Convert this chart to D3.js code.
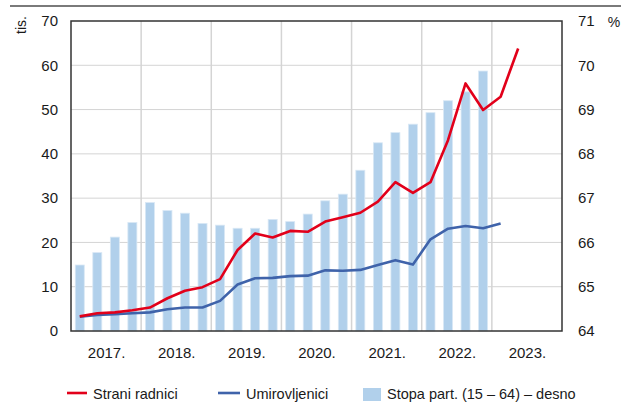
<!DOCTYPE html>
<html>
<head>
<meta charset="utf-8">
<script src="https://cdn.jsdelivr.net/npm/d3@7"></script>
<style>
  body { margin: 0; background: #fff; }
  svg text { font-family: "Liberation Sans", Arial, sans-serif; fill: #1a1a1a; }
</style>
</head>
<body>
<svg width="624" height="403"></svg>
<script>
// quarterly data, 2017 Q1 onwards
var years = ['2017.', '2018.', '2019.', '2020.', '2021.', '2022.', '2023.'];
var leftTicks = [0, 10, 20, 30, 40, 50, 60, 70];
var rightTicks = [64, 65, 66, 67, 68, 69, 70, 71];

var straniRadnici = [3.3, 4.0, 4.2, 4.7, 5.3, 7.4, 9.1, 9.9, 11.7, 18.3, 22.0, 21.1, 22.6,
  22.4, 24.7, 25.7, 26.7, 29.2, 33.6, 31.2, 33.6, 43.1, 55.9, 49.9, 52.9, 63.8];
var umirovljenici = [3.2, 3.6, 3.8, 4.0, 4.2, 4.9, 5.3, 5.3, 6.8, 10.5, 11.9, 12.0, 12.4,
  12.5, 13.7, 13.6, 13.8, 14.9, 16.0, 15.0, 20.7, 23.1, 23.7, 23.2, 24.3];
var stopaPart = [65.49, 65.77, 66.12, 66.45, 66.90, 66.72, 66.66, 66.43, 66.39, 66.32, 66.32, 66.52,
  66.47, 66.64, 66.94, 67.09, 67.63, 68.25, 68.48, 68.67, 68.93, 69.20, 69.40, 69.87];

var svg = d3.select('svg'),
    m = {left: 71, right: 562, top: 21, bottom: 331};

var x = d3.scaleLinear().domain([0, 28]).range([m.left, m.right]),
    yL = d3.scaleLinear().domain([0, 70]).range([m.bottom, m.top]),
    yR = d3.scaleLinear().domain([64, 71]).range([m.bottom, m.top]);

// top rule
svg.append('line')
  .attr('x1', 10).attr('x2', 621).attr('y1', 6).attr('y2', 6)
  .attr('stroke', '#7a7a7a').attr('stroke-width', 2);

// grid
svg.append('g').selectAll('line')
  .data(leftTicks.slice(1, -1))
  .enter().append('line')
  .attr('x1', m.left).attr('x2', m.right)
  .attr('y1', function(d) { return yL(d); })
  .attr('y2', function(d) { return yL(d); })
  .attr('stroke', '#d4d4d4').attr('stroke-width', 1);

svg.append('g').selectAll('line')
  .data(d3.range(1, years.length))
  .enter().append('line')
  .attr('x1', function(d) { return x(d * 4); })
  .attr('x2', function(d) { return x(d * 4); })
  .attr('y1', m.top).attr('y2', m.bottom)
  .attr('stroke', '#d4d4d4').attr('stroke-width', 1.5);

// bars (right axis)
var bw = 9;
svg.append('g').selectAll('rect')
  .data(stopaPart)
  .enter().append('rect')
  .attr('x', function(d, i) { return x(i + 0.5) - bw / 2; })
  .attr('y', function(d) { return yR(d); })
  .attr('width', bw)
  .attr('height', function(d) { return m.bottom - yR(d); })
  .attr('fill', '#b1d0eb')
  .attr('stroke', '#d9e8f5').attr('stroke-width', 0.8);

// lines
var line = d3.line()
  .x(function(d, i) { return x(i + 0.5); })
  .y(function(d) { return yL(d); });

svg.append('path').datum(umirovljenici)
  .attr('d', line).attr('fill', 'none')
  .attr('stroke', '#3f63aa').attr('stroke-width', 2.6).attr('stroke-linejoin', 'round');

svg.append('path').datum(straniRadnici)
  .attr('d', line).attr('fill', 'none')
  .attr('stroke', '#e2001a').attr('stroke-width', 2.6).attr('stroke-linejoin', 'round');

// frame
svg.append('rect')
  .attr('x', m.left).attr('y', m.top)
  .attr('width', m.right - m.left).attr('height', m.bottom - m.top)
  .attr('fill', 'none').attr('stroke', '#333').attr('stroke-width', 1.5);

// axes
var axL = svg.append('g').attr('transform', 'translate(' + m.left + ',0)')
  .call(d3.axisLeft(yL).tickValues(leftTicks).tickSize(0).tickPadding(13));
var axR = svg.append('g').attr('transform', 'translate(' + m.right + ',0)')
  .call(d3.axisRight(yR).tickValues(rightTicks).tickFormat(d3.format('d')).tickSize(0).tickPadding(16));
var axB = svg.append('g').attr('transform', 'translate(0,' + m.bottom + ')')
  .call(d3.axisBottom(x).tickValues(d3.range(years.length).map(function(i) { return i * 4 + 2; }))
    .tickFormat(function(d) { return years[(d - 2) / 4]; })
    .tickSize(0).tickPadding(16));

[axL, axR, axB].forEach(function(a) {
  a.select('.domain').remove();
  a.selectAll('text').style('font-size', '15px').style('font-family', '"Liberation Sans", Arial, sans-serif').attr('fill', '#1a1a1a');
});

svg.append('text')
  .attr('transform', 'translate(26,25) rotate(-90)')
  .attr('text-anchor', 'middle')
  .style('font-size', '14px')
  .text('tis.');

svg.append('text')
  .attr('x', 614).attr('y', 27)
  .attr('text-anchor', 'middle')
  .style('font-size', '14px')
  .text('%');

// legend
var lg = svg.append('g').style('font-size', '14.5px');
lg.append('line').attr('x1', 67).attr('x2', 87).attr('y1', 393).attr('y2', 393)
  .attr('stroke', '#e2001a').attr('stroke-width', 2.6);
lg.append('text').attr('x', 93).attr('y', 399).text('Strani radnici');
lg.append('line').attr('x1', 218).attr('x2', 240).attr('y1', 393).attr('y2', 393)
  .attr('stroke', '#3f63aa').attr('stroke-width', 2.6);
lg.append('text').attr('x', 246).attr('y', 399).text('Umirovljenici');
lg.append('rect').attr('x', 363).attr('y', 388).attr('width', 18).attr('height', 13)
  .attr('fill', '#b1d0eb');
lg.append('text').attr('x', 387).attr('y', 399).text('Stopa part. (15 – 64) – desno');
</script>
</body>
</html>
